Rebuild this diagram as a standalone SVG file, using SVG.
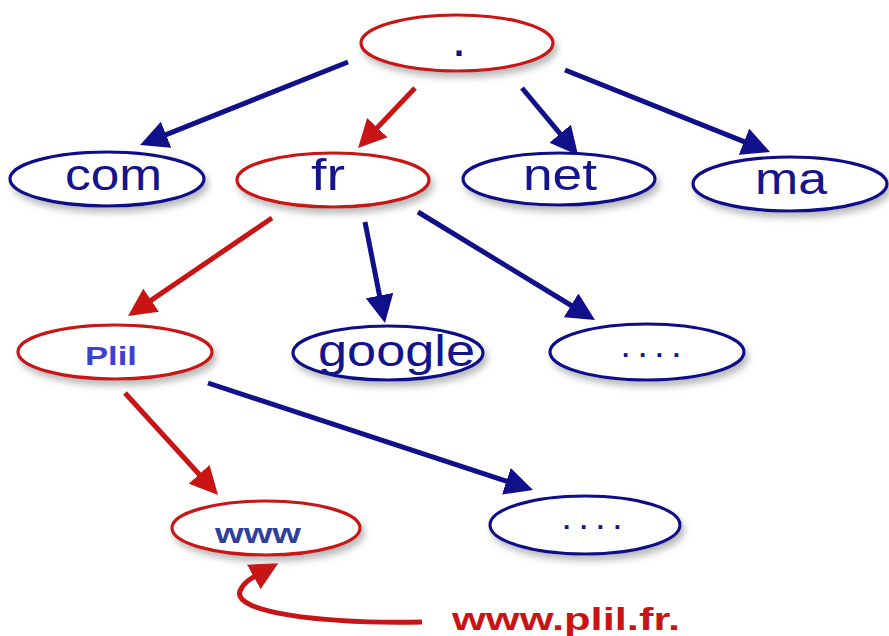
<svg xmlns="http://www.w3.org/2000/svg" width="889" height="636" viewBox="0 0 889 636">
<style>
.nb{fill:#ffffff;stroke:#10108a;stroke-width:3.2;filter:url(#sh)}
.nr{fill:#ffffff;stroke:#c81414;stroke-width:3.2;filter:url(#sh)}
.t{font-family:"Liberation Sans",Arial,sans-serif;font-size:44px;fill:#14148c}
.d{font-family:"Liberation Sans",Arial,sans-serif;font-weight:bold;font-size:26px;fill:#14148c}
.eb{stroke:#10108a;stroke-width:5;fill:none;marker-end:url(#ab)}
.er{stroke:#c81414;stroke-width:5;fill:none;marker-end:url(#ar)}
</style>
<defs>
<filter id="sh" x="-20%" y="-30%" width="140%" height="170%">
<feDropShadow dx="3" dy="5" stdDeviation="3.5" flood-color="#808080" flood-opacity="0.55"/>
</filter>
<marker id="ab" markerUnits="userSpaceOnUse" markerWidth="30" markerHeight="28" refX="6" refY="14" orient="auto">
<path d="M0,0 L28,14 L0,28 z" fill="#10108a"/>
</marker>
<marker id="ar" markerUnits="userSpaceOnUse" markerWidth="30" markerHeight="28" refX="6" refY="14" orient="auto">
<path d="M0,0 L28,14 L0,28 z" fill="#c81414"/>
</marker>
</defs>
<g id="connectors">
<line class="eb" x1="348" y1="62" x2="160.5" y2="136.9"/>
<line class="er" x1="415" y1="88" x2="373.2" y2="132"/>
<line class="eb" x1="522" y1="88" x2="564" y2="138.3"/>
<line class="eb" x1="565" y1="70" x2="749.6" y2="143.9"/>
<line class="er" x1="272" y1="218" x2="146.2" y2="303.6"/>
<line class="eb" x1="365" y1="222" x2="380.7" y2="301.4"/>
<line class="eb" x1="418" y1="212" x2="576.2" y2="308.5"/>
<line class="er" x1="125" y1="393" x2="203.2" y2="478.8"/>
<line class="eb" x1="208" y1="383" x2="512.1" y2="483.1"/>
<path class="er" d="M422,622 C320,624 232,612 240,591 C243,583 250,579 259,574"/>
</g>
<g id="root">
<ellipse class="nr" cx="457" cy="43" rx="96" ry="28"/>
<text x="454" y="56" font-family="Liberation Sans, Arial, sans-serif" font-weight="bold" font-size="36" fill="#10108a">.</text>
</g>
<g id="com">
<ellipse class="nb" cx="107" cy="179" rx="97" ry="27"/>
<text class="t" x="65" y="190" textLength="97" lengthAdjust="spacingAndGlyphs">com</text>
</g>
<g id="fr">
<ellipse class="nr" cx="333" cy="180" rx="96" ry="27"/>
<text class="t" x="311" y="190" textLength="34" lengthAdjust="spacingAndGlyphs">fr</text>
</g>
<g id="net">
<ellipse class="nb" cx="559" cy="179" rx="96" ry="26"/>
<text class="t" x="523" y="190" textLength="74" lengthAdjust="spacingAndGlyphs">net</text>
</g>
<g id="ma">
<ellipse class="nb" cx="790" cy="184" rx="97" ry="27"/>
<text class="t" x="755" y="194" textLength="72" lengthAdjust="spacingAndGlyphs">ma</text>
</g>
<g id="plil">
<ellipse class="nr" cx="115" cy="352" rx="97" ry="27"/>
<text x="85" y="365" font-family="Liberation Sans, Arial, sans-serif" font-weight="bold" font-size="25" fill="#4040d0" textLength="52" lengthAdjust="spacingAndGlyphs">Plil</text>
</g>
<g id="google">
<ellipse class="nb" cx="388" cy="353" rx="95" ry="27"/>
<text class="t" x="318" y="366" textLength="157" lengthAdjust="spacingAndGlyphs">google</text>
</g>
<g id="dots1">
<ellipse class="nb" cx="647" cy="352" rx="97" ry="28"/>
<text class="d" x="622" y="357" textLength="58">....</text>
</g>
<g id="www">
<ellipse class="nr" cx="266" cy="528" rx="94" ry="27"/>
<text x="215" y="543" font-family="Liberation Sans, Arial, sans-serif" font-weight="bold" font-size="27" fill="#2e3f9e" textLength="86" lengthAdjust="spacingAndGlyphs">www</text>
</g>
<g id="dots2">
<ellipse class="nb" cx="585" cy="525" rx="95" ry="29"/>
<text class="d" x="563" y="529" textLength="58">....</text>
</g>
<g id="label">
<text x="452" y="630" font-family="Liberation Sans, Arial, sans-serif" font-weight="bold" font-size="32" fill="#c81414" textLength="228" lengthAdjust="spacingAndGlyphs">www.plil.fr.</text>
</g>
</svg>
